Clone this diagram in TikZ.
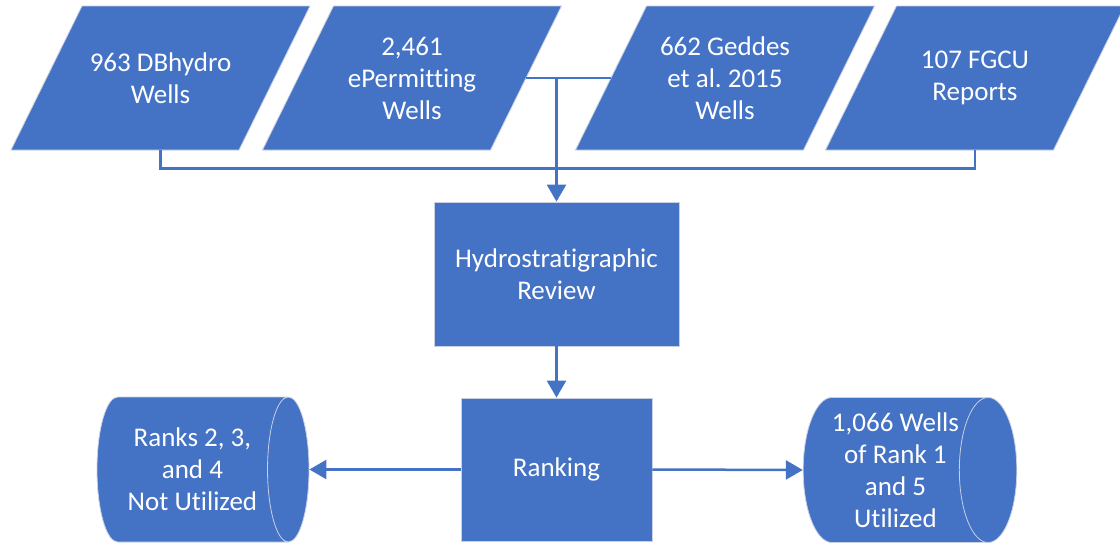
\documentclass[tikz,border=0pt]{standalone}
\usepackage{fontspec}
\setmainfont{Carlito}[Ligatures=NoCommon]
\usetikzlibrary{shapes.geometric,arrows.meta}
\definecolor{blau}{HTML}{4472C4}
\definecolor{rand}{HTML}{C8D0E2}
\def\zeig#1#2{\draw[->] #1 -- #2;}
\def\innen#1{\parbox[c][144pt][c]{157pt}{\centering #1}}

\begin{document}
\begin{tikzpicture}[x=1pt,y=-1pt,>={Triangle[width=19pt,length=17pt]},line width=2.5pt,draw=blau,
  feld/.style={fill=blau,draw=rand,line width=0.8pt,text=white,align=center,
    font=\fontsize{27}{32}\selectfont,inner sep=0pt},
  quelle/.style={feld,trapezium,trapezium left angle=63.75,trapezium right angle=116.25},
  kasten/.style={feld,rectangle},
  speicher/.style={feld,cylinder,shape aspect=0.5,minimum height=212pt,minimum width=145pt,
    anchor=shape center}]
\useasboundingbox (0,0) rectangle (1120,544);
\coordinate (Q1) at (160.5,78);
\coordinate (Q2) at (412,78);
\coordinate (Q3) at (725,78);
\coordinate (Q4) at (975,78);
\coordinate (H) at (556.5,274);
\coordinate (R) at (556.5,469.5);
\coordinate (N) at (203,469.5);
\coordinate (U) at (910,470);
\node[quelle] (dbh) at (Q1) {\innen{963 DBhydro\\Wells}};
\node[quelle] (eperm) at (Q2) {\innen{2,461\\ePermitting\\Wells}};
\node[quelle] (gedd) at (Q3) {\innen{662 Geddes\\et al.\ 2015\\Wells}};
\node[quelle] (fgcu) at (Q4) {\innen{107 FGCU\\Reports}};
\node[kasten,minimum width=245pt,minimum height=144pt] (hydro) at (H) {Hydrostratigraphic\\Review};
\node[kasten,minimum width=191pt,minimum height=143pt] (rank) at (R) {Ranking};
\node[speicher] (nicht) at (N) {Ranks 2, 3,\\and 4\\Not Utilized};
\node[speicher] (genutzt) at (U) {1,066 Wells\\of Rank 1\\and 5\\Utilized};
\draw[blau] (dbh.south) -- ++(0,18) -| (fgcu.south);
\draw[blau] (eperm.east) -- (gedd.west);
\zeig{(hydro.north |- eperm.east)}{(hydro.north)}
\zeig{(hydro.south)}{(rank.north)}
\zeig{(rank.west)}{(nicht.east)}
\zeig{(rank.east)}{(genutzt.west)}
\end{tikzpicture}
\end{document}
